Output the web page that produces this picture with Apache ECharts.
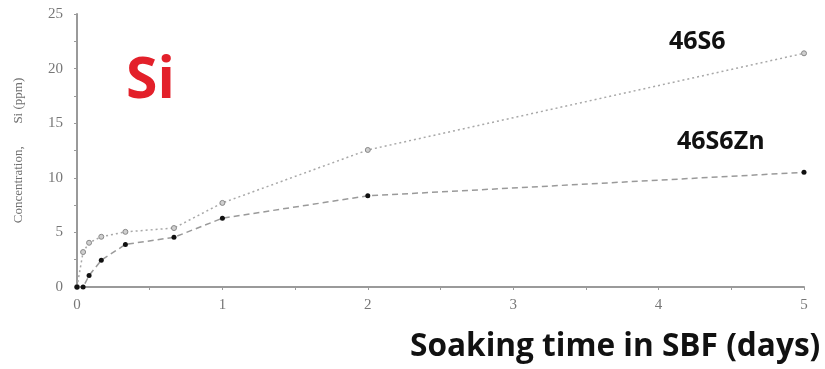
<!DOCTYPE html>
<html>
<head>
<meta charset="utf-8">
<script src="https://cdn.jsdelivr.net/npm/echarts@6/dist/echarts.min.js"></script>
<style>
  html, body { margin: 0; padding: 0; background: #fff; }
  #chart { width: 825px; height: 369px; }
</style>
</head>
<body>
<div id="chart"></div>
<script>
// Soaking times (days): 0, 1 h, 2 h, 4 h, 8 h, 16 h, 1 d, 2 d, 5 d
const days = [0, 0.042, 0.083, 0.167, 0.333, 0.667, 1, 2, 5];
// Si concentration (ppm)
const si46S6 = [0, 3.2, 4.05, 4.6, 5.05, 5.4, 7.7, 12.55, 21.4];
const si46S6Zn = [0, 0, 1.05, 2.45, 3.9, 4.55, 6.3, 8.35, 10.5];
const xTickLabels = ['0', '1', '2', '3', '4', '5'];
const yTickLabels = ['0', '5', '10', '15', '20', '25'];

const pairs = (xs, ys) => xs.map((x, i) => [x, ys[i]]);

const chart = echarts.init(document.getElementById('chart'));
const serif = '"Liberation Serif", "DejaVu Serif", serif';

chart.setOption({
  animation: false,
  grid: { left: 77, right: 21, top: 14, bottom: 82 },
  xAxis: {
    type: 'value', min: 0, max: 5, interval: 0.5,
    axisLine: { lineStyle: { color: '#9a9a9a', width: 2 } },
    axisTick: { length: 3, lineStyle: { color: '#9a9a9a' } },
    splitLine: { show: false },
    axisLabel: {
      color: '#777', fontFamily: serif, fontSize: 15, margin: 11,
      formatter: v => (Math.abs(v - Math.round(v)) < 1e-6 ? xTickLabels[Math.round(v)] : '')
    }
  },
  yAxis: {
    type: 'value', min: 0, max: 25, interval: 2.5,
    name: 'Concentration,       Si (ppm)',
    nameLocation: 'middle', nameGap: 52,
    nameTextStyle: { color: '#6f6f6f', fontFamily: serif, fontSize: 13 },
    axisLine: { show: true, lineStyle: { color: '#9a9a9a', width: 2 } },
    axisTick: { show: true, length: 3, lineStyle: { color: '#9a9a9a' } },
    splitLine: { show: false },
    axisLabel: {
      color: '#777', fontFamily: serif, fontSize: 15, margin: 14,
      formatter: v => (Math.abs(v / 5 - Math.round(v / 5)) < 1e-6 ? yTickLabels[Math.round(v / 5)] : '')
    }
  },
  series: [
    {
      name: '46S6', type: 'line', data: pairs(days, si46S6),
      symbol: 'circle', symbolSize: 5,
      lineStyle: { color: '#a8a8a8', width: 1.5, type: [2, 3] },
      itemStyle: { color: '#cfcfcf', borderColor: '#888', borderWidth: 1 },
      z: 2
    },
    {
      name: '46S6Zn', type: 'line', data: pairs(days, si46S6Zn),
      symbol: 'circle', symbolSize: 5,
      lineStyle: { color: '#9a9a9a', width: 1.5, type: [6, 4] },
      itemStyle: { color: '#111', borderColor: '#111', borderWidth: 0 },
      z: 3
    }
  ],
  graphic: [
    { type: 'text', left: 126, top: 53,
      style: { text: 'Si', fill: '#e3202a', font: 'bold 57px "Open Sans", sans-serif' } },
    { type: 'text', left: 669, top: 29,
      style: { text: '46S6', fill: '#111', font: 'bold 25px "Open Sans", sans-serif' } },
    { type: 'text', left: 677, top: 129,
      style: { text: '46S6Zn', fill: '#111', font: 'bold 25px "Open Sans", sans-serif' } },
    { type: 'text', left: 410, top: 331,
      style: { text: 'Soaking time in SBF (days)', fill: '#111', font: 'bold 31.6px "Open Sans", sans-serif' } }
  ]
});
</script>
</body>
</html>
